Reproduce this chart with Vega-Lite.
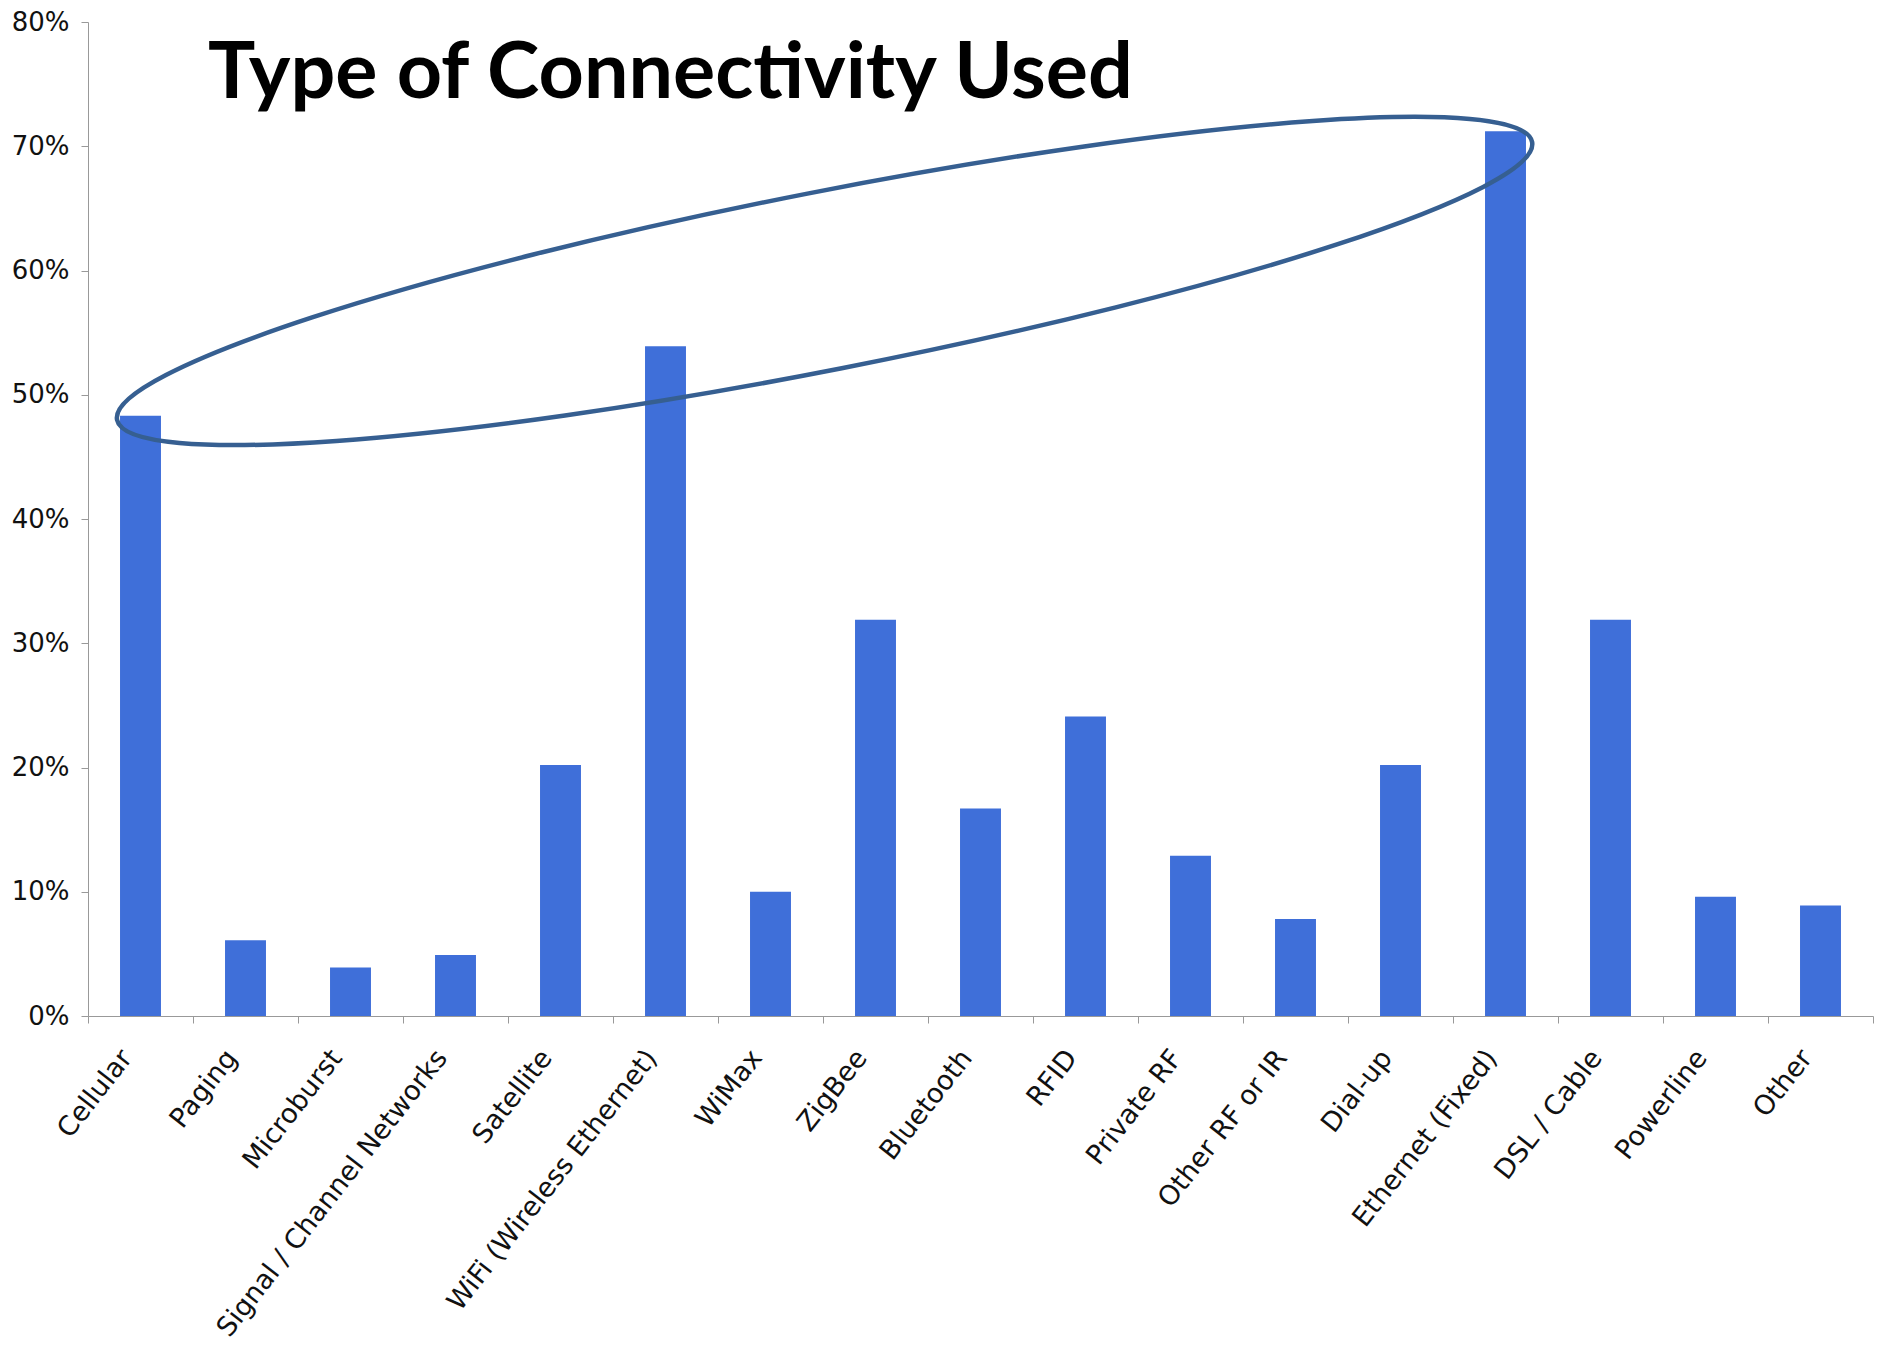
{
  "$schema": "https://vega.github.io/schema/vega-lite/v6.json",
  "width": 1785,
  "height": 994,
  "autosize": {"type": "none"},
  "padding": {"left": 88, "top": 22, "right": 12, "bottom": 337},
  "background": "white",
  "title": {
    "text": "Type of Connectivity Used",
    "font": "Lato",
    "fontWeight": "bold",
    "fontSize": 79,
    "color": "#000000",
    "anchor": "start",
    "frame": "group",
    "orient": "top",
    "baseline": "alphabetic",
    "offset": -168,
    "dx": 120
  },
  "config": {"view": {"stroke": null}},
  "data": {
    "values": [
      {"type": "Cellular", "share": 0.483},
      {"type": "Paging", "share": 0.061},
      {"type": "Microburst", "share": 0.039},
      {"type": "Signal / Channel Networks", "share": 0.049},
      {"type": "Satellite", "share": 0.202},
      {"type": "WiFi (Wireless Ethernet)", "share": 0.539},
      {"type": "WiMax", "share": 0.100},
      {"type": "ZigBee", "share": 0.319},
      {"type": "Bluetooth", "share": 0.167},
      {"type": "RFID", "share": 0.241},
      {"type": "Private RF", "share": 0.129},
      {"type": "Other RF or IR", "share": 0.078},
      {"type": "Dial-up", "share": 0.202},
      {"type": "Ethernet (Fixed)", "share": 0.712},
      {"type": "DSL / Cable", "share": 0.319},
      {"type": "Powerline", "share": 0.096},
      {"type": "Other", "share": 0.089}
    ]
  },
  "layer": [
    {
      "mark": {"type": "bar", "color": "#3f6fd9", "width": {"band": 0.39}},
      "encoding": {
        "x": {
          "field": "type",
          "type": "nominal",
          "scale": {
            "domain": ["Cellular", "Paging", "Microburst", "Signal / Channel Networks", "Satellite", "WiFi (Wireless Ethernet)", "WiMax", "ZigBee", "Bluetooth", "RFID", "Private RF", "Other RF or IR", "Dial-up", "Ethernet (Fixed)", "DSL / Cable", "Powerline", "Other"],
            "paddingInner": 0,
            "paddingOuter": 0
          },
          "axis": {
            "title": null,
            "labelAngle": -52,
            "labelFont": "DejaVu Sans",
            "labelFontSize": 27,
            "labelColor": "#111111",
            "labelLimit": 700,
            "labelPadding": 30,
            "labelOffset": -14,
            "tickBand": "extent",
            "tickSize": 7,
            "tickColor": "#999999",
            "domainColor": "#999999"
          }
        },
        "y": {
          "field": "share",
          "type": "quantitative",
          "scale": {"domain": [0, 0.8]},
          "axis": {
            "title": null,
            "format": ".0%",
            "values": [0, 0.1, 0.2, 0.3, 0.4, 0.5, 0.6, 0.7, 0.8],
            "grid": false,
            "labelFont": "DejaVu Sans",
            "labelFontSize": 26,
            "labelColor": "#111111",
            "labelPadding": 12,
            "tickSize": 7,
            "tickColor": "#999999",
            "domainColor": "#999999"
          }
        }
      }
    },
    {
      "data": {"values": [{}]},
      "mark": {
        "type": "point",
        "shape": "M0.9813,-0.1927 C0.9944,-0.1258 0.5658,0.0147 0.0238,0.1211 C-0.5182,0.2275 -0.9682,0.2596 -0.9813,0.1927 C-0.9944,0.1258 -0.5658,-0.0147 -0.0238,-0.1211 C0.5182,-0.2275 0.9682,-0.2596 0.9813,-0.1927 Z",
        "size": 2079364,
        "filled": false,
        "color": "#365f91",
        "stroke": "#365f91",
        "strokeWidth": 4.5,
        "opacity": 1
      },
      "encoding": {
        "x": {"datum": "ZigBee", "type": "nominal", "bandPosition": 0.015},
        "y": {"datum": 0.5916, "type": "quantitative"}
      }
    }
  ]
}
